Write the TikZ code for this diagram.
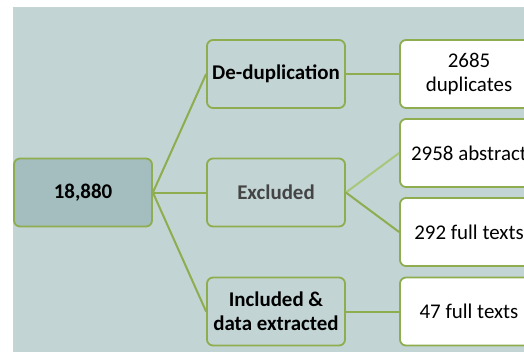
\documentclass[tikz,border=0pt]{standalone}
\usepackage{fontspec}
\setmainfont{Carlito}
\definecolor{bgblue}{HTML}{C3D4D4}
\definecolor{rootfill}{HTML}{A4BDBE}
\definecolor{linegreen}{HTML}{8EAD4E}
\definecolor{palegreen}{HTML}{A9C67B}
\definecolor{textgray}{HTML}{444444}
\begin{document}
\begin{tikzpicture}[x=1bp,y=-1bp,
  box/.style={draw=linegreen,line width=1.8bp,rounded corners=6bp,
    minimum width=138bp,minimum height=68bp,inner sep=0pt,align=center,
    font=\fontsize{21}{24}\selectfont},
  boldbox/.style={box,fill=bgblue,font=\fontsize{21}{24}\selectfont\bfseries},
  leafbox/.style={box,fill=white},
  link/.style={linegreen,line width=2bp}]
\useasboundingbox (0,0) rectangle (524,352);
\clip (0,0) rectangle (524,352);
\fill[bgblue] (13,7) rectangle (524,352);
% first column
\node[boldbox,fill=rootfill] (total) at (83,192.5) {18,880};
% second column
\node[boldbox] (dedup) at (276,74) {De-duplication};
\node[boldbox,text=textgray] (excl) at (276,192.5) {Excluded};
\node[boldbox] (incl) at (276,311.5) {Included \&\\data extracted};
% third column
\node[leafbox] (dupl) at (469,74) {2685\\duplicates};
\node[leafbox] (abstr) at (469,153) {2958 abstract};
\node[leafbox] (fullx) at (469,232) {292 full texts};
\node[leafbox] (fulli) at (469,311.5) {47 full texts};
\foreach \b in {dedup,excl,incl}
{\draw[link] (total.east) -- (\b.west);}
\draw[link] (dedup.east) -- (dupl.west);
\draw[link,palegreen] (excl.east) -- (abstr.west);
\draw[link] (excl.east) -- (fullx.west);
\draw[link] (incl.east) -- (fulli.west);

\end{tikzpicture}
\end{document}
